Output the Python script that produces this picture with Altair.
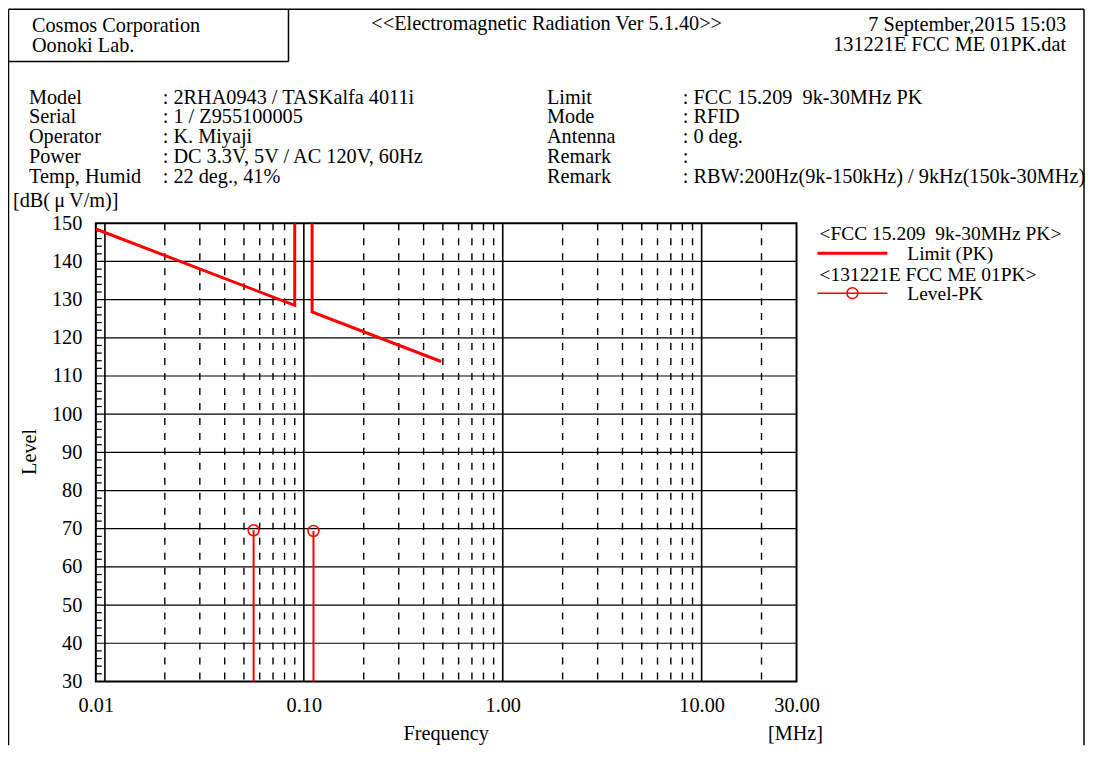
import altair as alt
import pandas as pd

# ---------------- data ----------------
limit_seg = ["a", "a", "a", "b", "b", "b"]
limit_freq = [0.009, 0.09, 0.09, 0.11, 0.11, 0.49]
limit_level = [148.5, 128.5, 150.0, 150.0, 126.8, 113.8]

pk_freq = [0.0559, 0.1118]
pk_level = [69.6, 69.4]

x_tick_values = [0.009, 0.1, 1, 10, 30]
y_tick_values = [30, 40, 50, 60, 70, 80, 90, 100, 110, 120, 130, 140, 150]
decade_lines = [0.01, 0.1, 1, 10]
minor_lines = [0.02, 0.03, 0.04, 0.05, 0.06, 0.07, 0.08, 0.09,
               0.2, 0.3, 0.4, 0.5, 0.6, 0.7, 0.8, 0.9,
               2, 3, 4, 5, 6, 7, 8, 9, 20]
y_grid_lines = [40, 50, 60, 70, 80, 90, 100, 110, 120, 130, 140]
y_minor_ticks = [v for v in range(32, 150, 2) if v % 10 != 0]

info_labels = ["Model", "Serial", "Operator", "Power", "Temp, Humid"]
info_values = [": 2RHA0943 / TASKalfa 4011i", ": 1 / Z955100005", ": K. Miyaji",
               ": DC 3.3V, 5V / AC 120V, 60Hz", ": 22 deg., 41%"]
info2_labels = ["Limit", "Mode", "Antenna", "Remark", "Remark"]
info2_values = [": FCC 15.209\u00a0\u00a09k-30MHz PK", ": RFID", ": 0 deg.", ":",
                ": RBW:200Hz(9k-150kHz) / 9kHz(150k-30MHz)"]

# ---------------- layout ----------------
FONT = "Liberation Serif"
FS = 20.3
LFS = 19.5
W, H = 702, 459
X0, Y0 = 96, 223  # page coords of plot origin
RED = "#ff0000"

xs = alt.Scale(type="log", domain=[0.009, 30], nice=False)
ys = alt.Scale(domain=[30, 150], nice=False, zero=False)

x_axis = alt.Axis(values=x_tick_values, format=".2f", ticks=False, tickSize=0,
                  domain=False, grid=False, labelFont=FONT, labelFontSize=FS,
                  labelColor="black", labelPadding=14, title=None,
                  labelFlush=False, labelOverlap=False)
y_axis = alt.Axis(values=y_tick_values, ticks=False, tickSize=0, domain=False,
                  grid=False, labelFont=FONT, labelFontSize=FS, labelColor="black",
                  labelPadding=14, title=None, labelFlush=False, labelOverlap=False)


def X(field):
    return alt.X(field, type="quantitative", scale=xs, axis=x_axis)


def Y(field):
    return alt.Y(field, type="quantitative", scale=ys, axis=y_axis)


one = pd.DataFrame({"k": [0]})


def txt(s, px, py, align="left", size=FS, angle=None):
    kw = dict(text=s, align=align, baseline="alphabetic", font=FONT,
              fontSize=size, color="black")
    if angle is not None:
        kw["angle"] = angle
    return alt.Chart(one).mark_text(**kw).encode(
        x=alt.value(px - X0), y=alt.value(py - Y0))


def hline(xa, xb, py, width=1.5, color="black"):
    return alt.Chart(one).mark_rule(color=color, strokeWidth=width).encode(
        x=alt.value(xa - X0), x2=alt.value(xb - X0), y=alt.value(py - Y0))


def vline(px, ya, yb, width=1.5, color="black"):
    return alt.Chart(one).mark_rule(color=color, strokeWidth=width).encode(
        x=alt.value(px - X0), y=alt.value(ya - Y0), y2=alt.value(yb - Y0))


layers = []

# horizontal grid
layers.append(alt.Chart(pd.DataFrame({"y": y_grid_lines})).mark_rule(
    color="black", strokeWidth=1.2).encode(
    y=Y("y"), x=alt.value(0), x2=alt.value(W)))

# y minor ticks on the left edge
layers.append(alt.Chart(pd.DataFrame({"y": y_minor_ticks})).mark_rule(
    color="black", strokeWidth=1.2).encode(
    y=Y("y"), x=alt.value(0), x2=alt.value(6)))

# dashed minor vertical lines
layers.append(alt.Chart(pd.DataFrame({"f": minor_lines})).mark_rule(
    color="black", strokeWidth=1.4, strokeDash=[7, 8]).encode(
    x=X("f"), y=alt.value(0), y2=alt.value(H)))

# solid decade lines
layers.append(alt.Chart(pd.DataFrame({"f": decade_lines})).mark_rule(
    color="black", strokeWidth=1.6).encode(
    x=X("f"), y=alt.value(0), y2=alt.value(H)))

# limit line
lim = pd.DataFrame({"seg": limit_seg, "f": limit_freq, "lv": limit_level,
                    "i": list(range(len(limit_freq)))})
layers.append(alt.Chart(lim).mark_line(color=RED, strokeWidth=3, clip=True).encode(
    x=X("f"), y=Y("lv"), detail="seg:N", order="i:Q"))

# level PK stems and markers
pk = pd.DataFrame({"f": pk_freq, "lv": pk_level})
layers.append(alt.Chart(pk).mark_rule(color=RED, strokeWidth=2).encode(
    x=X("f"), y=Y("lv"), y2=alt.value(H)))
layers.append(alt.Chart(pk).mark_point(shape="circle", filled=False, size=120,
                                       color=RED, strokeWidth=1.5, opacity=1).encode(
    x=X("f"), y=Y("lv")))

# ---------------- header ----------------
layers.append(hline(8.5, 1086, 8.5))
layers.append(vline(8.5, 8.5, 746))
layers.append(vline(1086, 8.5, 746))
layers.append(vline(289, 8.5, 61))
layers.append(hline(8.5, 289, 61))

layers.append(txt("Cosmos Corporation", 32, 31))
layers.append(txt("Oonoki Lab.", 32, 51))
layers.append(txt("<<Electromagnetic Radiation Ver 5.1.40>>", 372, 29))
layers.append(txt("7 September,2015 15:03", 1068, 30, align="right"))
layers.append(txt("131221E FCC ME 01PK.dat", 1068, 50, align="right"))

for i, (lab, val) in enumerate(zip(info_labels, info_values)):
    layers.append(txt(lab, 29, 103 + 20 * i))
    layers.append(txt(val, 163, 103 + 20 * i))
for i, (lab, val) in enumerate(zip(info2_labels, info2_values)):
    layers.append(txt(lab, 548, 103 + 20 * i))
    layers.append(txt(val, 684, 103 + 20 * i))

# axis titles
layers.append(txt("[dB(\u2009μ\u2009V/m)]", 13, 207))
layers.append(txt("Level", 36, 452, align="center", angle=270))
layers.append(txt("Frequency", 447, 741, align="center"))
layers.append(txt("[MHz]", 797, 741, align="center"))

# legend
layers.append(txt("<FCC 15.209\u00a0\u00a09k-30MHz PK>", 821, 240, size=LFS))
layers.append(hline(819, 889, 253, width=3, color=RED))
layers.append(txt("Limit (PK)", 909, 260, size=LFS))
layers.append(txt("<131221E FCC ME 01PK>", 821, 281, size=LFS))
layers.append(hline(819, 889, 293, width=1.5, color=RED))
layers.append(alt.Chart(one).mark_point(shape="circle", filled=False, size=120,
                                        color=RED, strokeWidth=1.5, opacity=1).encode(
    x=alt.value(854 - X0), y=alt.value(293 - Y0)))
layers.append(txt("Level-PK", 909, 300, size=LFS))

chart = alt.layer(*layers).properties(
    width=W, height=H,
    autosize=alt.AutoSizeParams(type="none"),
    padding={"left": X0 - 8, "top": Y0 - 8, "right": 1080 - (X0 - 8) - W,
             "bottom": 738 - (Y0 - 8) - H},
    background="white",
).configure_view(stroke="black", strokeWidth=2)

chart.save("out.html", embed_options={"renderer": "svg", "actions": False})
